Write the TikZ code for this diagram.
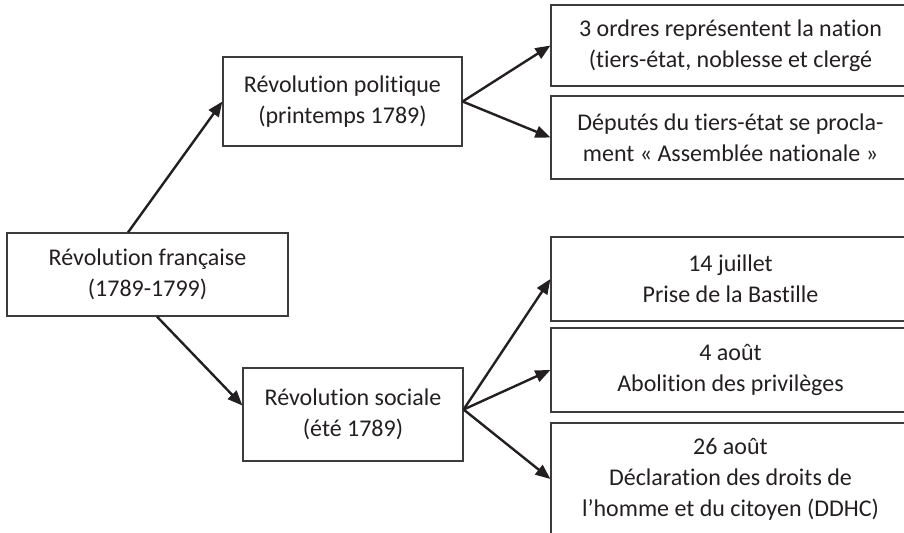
\documentclass[tikz,border=0pt]{standalone}
\usepackage{fontspec}
\setmainfont[RawFeature={-liga;-clig;-calt}]{Carlito}
\usepackage{xcolor}
\usepackage{tikz}
\usetikzlibrary{arrows.meta}
\definecolor{inkdark}{HTML}{231F20}
\definecolor{boxline}{HTML}{3C3C3C}
\tikzset{
  evtbox/.style={draw=boxline, line width=0.6pt, inner sep=0pt, align=center,
    text=inkdark, font=\fontsize{12}{15.5}\selectfont},
  sidebox/.style={evtbox, minimum width=179.5pt},
  link/.style={draw=inkdark, line width=1.2pt, -{Triangle[length=7.5pt,width=6pt]}}
}

\begin{document}
\begin{tikzpicture}[x=0.5pt,y=0.5pt]
                \useasboundingbox (0,0) rectangle (904,532);
                % Root
                \node[evtbox, minimum width=140.5pt, minimum height=41.5pt] (revo) at (147.5,257.5) {Révolution française\\(1789-1799)};
                % Two branches
                \node[evtbox, minimum width=119.5pt, minimum height=44.5pt] (polit) at (342.5,430.5) {Révolution politique\\(printemps 1789)};
                \node[evtbox, minimum width=110pt, minimum height=46.5pt] (socia) at (353,117.5) {Révolution sociale\\(été 1789)};
                % Events
                \node[sidebox, minimum height=40.5pt] (ordres) at (730.5,486.5) {3 ordres représentent la nation\\(tiers-état, noblesse et clergé};
                \node[sidebox, minimum height=41.5pt] (assemb) at (730.5,394.5) {Députés du tiers-état se procla-\\ment « Assemblée nationale »};
                \node[sidebox, minimum height=42pt] (bastil) at (730.5,253) {14 juillet\\Prise de la Bastille};
                \node[sidebox, minimum height=42pt] (privil) at (730.5,162) {4 août\\Abolition des privilèges};
                \node[sidebox, minimum height=56pt] (ddhc) at (730.5,53) {26 août\\Déclaration des droits de\\l’homme et du citoyen (DDHC)};
                % Arrows
                \draw[link] ([xshift=-9.75pt]revo.north) -- (polit.west);
                \draw[link] ([xshift=4.75pt]revo.south) -- ([yshift=4.5pt]socia.west);
                \draw[link] (polit.east) -- (ordres.west);
                \draw[link] (polit.east) -- (assemb.west);
                \draw[link] ([yshift=2.5pt]socia.east) -- (bastil.west);
                \draw[link] ([yshift=2.5pt]socia.east) -- (privil.west);
                \draw[link] ([yshift=2.5pt]socia.east) -- (ddhc.west);
            \end{tikzpicture}
\end{document}
